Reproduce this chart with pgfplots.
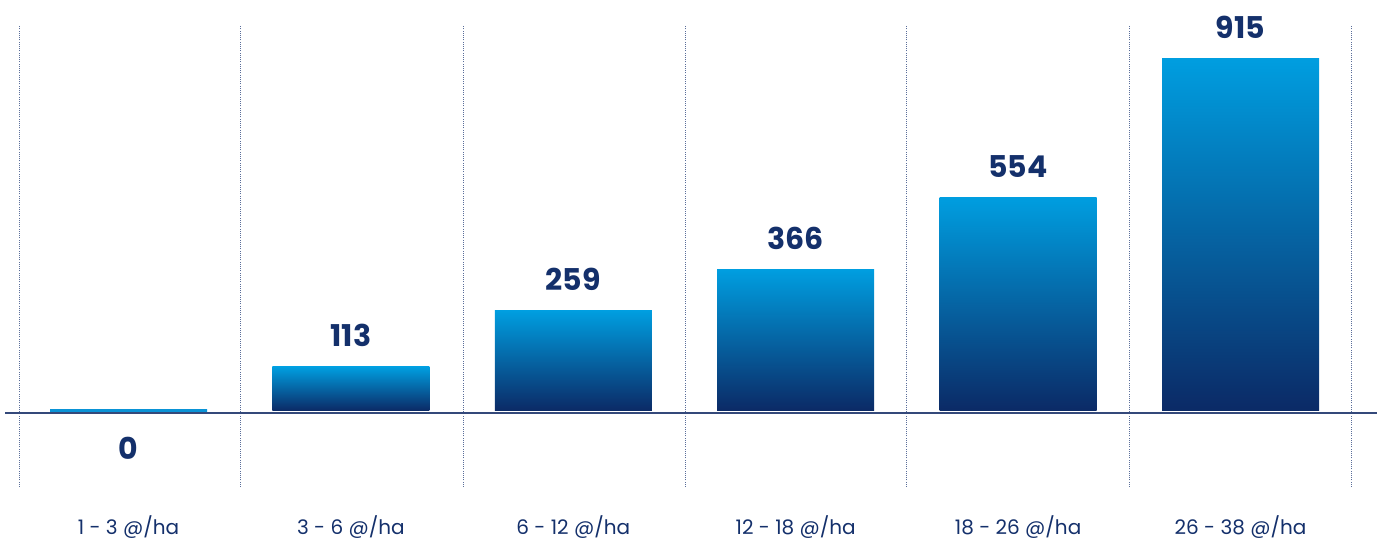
\documentclass[border=0pt]{standalone}
\usepackage{fontspec}
\setmainfont{Poppins}
\usepackage{pgfplots}
\pgfplotsset{compat=1.18}
\definecolor{navy}{HTML}{14306B}
\definecolor{bartop}{HTML}{009EE0}
\definecolor{barbot}{HTML}{0B2A66}
\definecolor{zerocol}{HTML}{0A93D6}
\definecolor{linecol}{HTML}{34497A}
\definecolor{sepcol}{HTML}{5A6E9A}

\pgfplotsset{
    gbar/.style={
        ybar, bar width=78.5pt, bar shift=0pt,
        draw=none, top color=bartop, bottom color=barbot,
        nodes near coords,
        every node near coord/.append style={
            font=\bfseries\fontsize{15}{17}\selectfont,
            text=navy, anchor=base, yshift=10pt},
    },
}

\begin{document}
\begin{tikzpicture}
\begin{axis}[
    scale only axis,
    width=693.5pt,
    height=270pt,
    xmin=-0.5778, xmax=5.6587,
    ymin=-336.2, ymax=1065.7,
    hide axis,
    clip=false,
    /pgf/number format/assume math mode=true,
]

% separators
\draw[sepcol, line width=0.5pt, dash pattern=on 0.5pt off 0.6pt]
    (axis cs:-0.49,-198.6) -- (axis cs:-0.49,1000.8)
    (axis cs:0.505,-198.6) -- (axis cs:0.505,1000.8)
    (axis cs:1.505,-198.6) -- (axis cs:1.505,1000.8)
    (axis cs:2.505,-198.6) -- (axis cs:2.505,1000.8)
    (axis cs:3.5,-198.6) -- (axis cs:3.5,1000.8)
    (axis cs:4.503,-198.6) -- (axis cs:4.503,1000.8)
    (axis cs:5.5,-198.6) -- (axis cs:5.5,1000.8);

% baseline
\draw[linecol, line width=1pt] (axis cs:-0.555,-6) -- (axis cs:5.614,-6);

% bars, one plot each so every bar gets its own gradient
\addplot[gbar] coordinates {(1,113)};
\addplot[gbar] coordinates {(2,259)};
\addplot[gbar] coordinates {(3,366)};
\addplot[gbar] coordinates {(4,554)};
\addplot[gbar] coordinates {(5,915)};

% zero bar
\addplot[
    ybar, bar width=78.5pt, bar shift=0pt,
    draw=zerocol, fill=zerocol, line width=1.2pt,
    nodes near coords,
    every node near coord/.append style={
        font=\bfseries\fontsize{15}{17}\selectfont,
        text=navy, anchor=base, yshift=-24.3pt},
] coordinates {(0,0)};

% category labels
\tikzset{cat/.style={font=\fontsize{10}{12}\selectfont, text=navy, anchor=base}}
\node[cat] at (axis cs:0,-321) {1 - 3 @/ha};
\node[cat] at (axis cs:1,-321) {3 - 6 @/ha};
\node[cat] at (axis cs:2,-321) {6 - 12 @/ha};
\node[cat] at (axis cs:3,-321) {12 - 18 @/ha};
\node[cat] at (axis cs:4,-321) {18 - 26 @/ha};
\node[cat] at (axis cs:5,-321) {26 - 38 @/ha};
\end{axis}
\pgfresetboundingbox
\useasboundingbox (0,0) rectangle (693.5pt,270pt);
\end{tikzpicture}
\end{document}
